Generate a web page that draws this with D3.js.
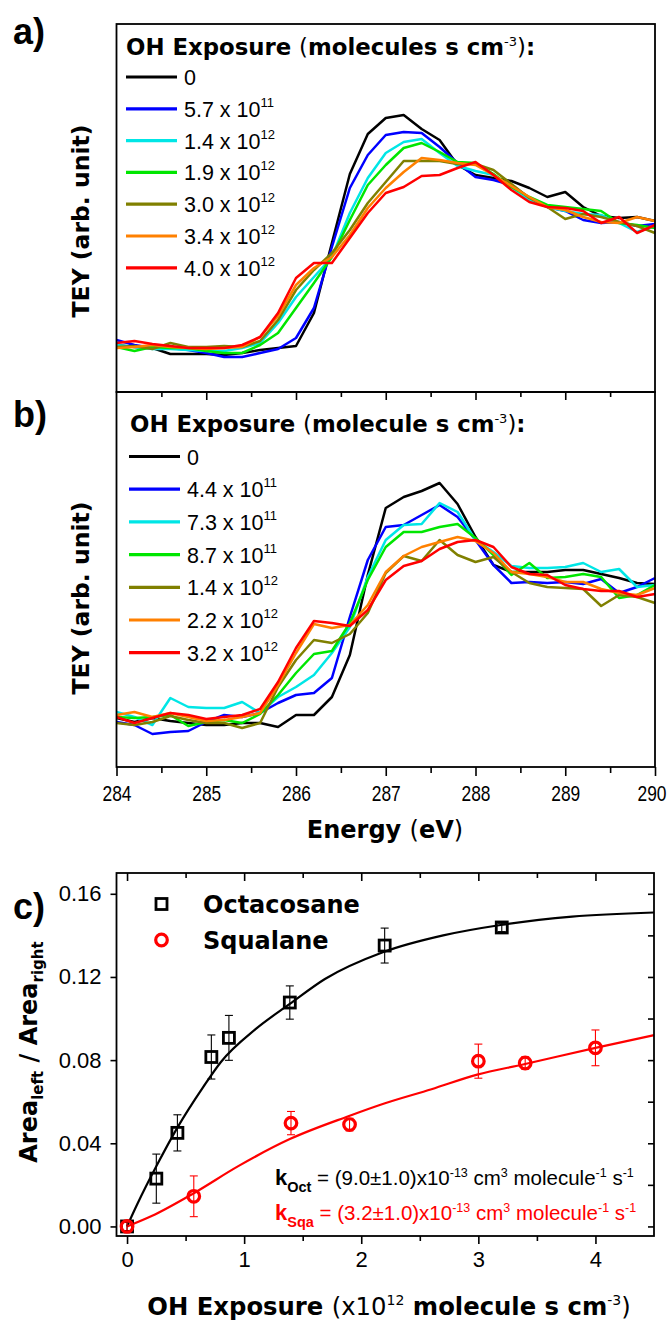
<!DOCTYPE html>
<html><head><meta charset="utf-8">
<script src="https://cdn.jsdelivr.net/npm/d3@7"></script>
<style>body{margin:0;background:#fff}svg{display:block}text{white-space:pre}</style>
</head><body>
<svg id="chart" width="670" height="1329"></svg>
<script>
// ---------- DATA ----------
const energy = [284,284.2,284.4,284.6,284.8,285,285.2,285.4,285.6,285.8,286,286.2,286.4,286.6,286.8,287,287.2,287.4,287.6,287.8,288,288.2,288.4,288.6,288.8,289,289.2,289.4,289.6,289.8,290];

// Panel a (TEY, arb. unit) – octacosane
const teyA_0     = [0.47,0.45,0.44,0.38,0.38,0.38,0.37,0.39,0.42,0.44,0.46,0.79,1.49,2.18,2.58,2.74,2.77,2.63,2.52,2.27,2.17,2.14,2.11,2.04,1.95,2.00,1.85,1.76,1.74,1.75,1.71];
const teyA_57e11 = [0.52,0.47,0.44,0.44,0.42,0.39,0.35,0.35,0.39,0.43,0.54,0.84,1.45,2.04,2.37,2.57,2.60,2.59,2.45,2.29,2.15,2.12,2.07,1.94,1.85,1.81,1.72,1.69,1.70,1.66,1.68];
const teyA_14e12 = [0.47,0.45,0.43,0.43,0.42,0.41,0.41,0.44,0.49,0.69,0.95,1.15,1.35,1.79,2.14,2.39,2.50,2.53,2.39,2.26,2.21,2.17,2.05,1.92,1.85,1.81,1.78,1.77,1.69,1.60,1.66];
const teyA_19e12 = [0.45,0.41,0.45,0.44,0.44,0.41,0.39,0.39,0.47,0.59,0.84,1.09,1.35,1.72,2.07,2.27,2.44,2.49,2.40,2.30,2.29,2.18,2.05,1.95,1.87,1.85,1.83,1.81,1.69,1.67,1.64];
const teyA_30e12 = [0.45,0.46,0.43,0.49,0.45,0.45,0.46,0.45,0.51,0.72,1.02,1.22,1.39,1.62,1.89,2.10,2.31,2.31,2.31,2.28,2.28,2.22,2.08,1.94,1.85,1.73,1.78,1.75,1.70,1.66,1.59];
const teyA_34e12 = [0.44,0.45,0.47,0.45,0.44,0.43,0.44,0.45,0.55,0.76,1.07,1.24,1.35,1.57,1.84,2.04,2.20,2.34,2.32,2.29,2.27,2.17,2.06,1.95,1.85,1.82,1.75,1.70,1.69,1.75,1.71];
const teyA_40e12 = [0.49,0.51,0.48,0.46,0.44,0.44,0.44,0.47,0.55,0.79,1.14,1.29,1.29,1.54,1.79,1.99,2.05,2.16,2.17,2.24,2.30,2.17,2.02,1.90,1.85,1.84,1.81,1.69,1.75,1.59,1.67];
const labelsA = [["0",""],["5.7 x 10","11"],["1.4 x 10","12"],["1.9 x 10","12"],["3.0 x 10","12"],["3.4 x 10","12"],["4.0 x 10","12"]];

// Panel b (TEY, arb. unit) – squalane
const teyB_0     = [0.49,0.45,0.49,0.46,0.44,0.42,0.42,0.44,0.44,0.40,0.52,0.52,0.70,1.12,1.92,2.59,2.70,2.76,2.84,2.63,2.30,2.02,1.95,1.95,1.95,1.97,1.97,1.93,1.89,1.84,1.83];
const teyB_44e11 = [0.45,0.42,0.33,0.35,0.36,0.45,0.52,0.50,0.54,0.64,0.72,0.74,0.89,1.50,2.07,2.40,2.42,2.52,2.62,2.50,2.27,2.02,1.84,1.85,1.84,1.85,1.83,1.88,1.74,1.80,1.89];
const teyB_73e11 = [0.55,0.50,0.42,0.69,0.60,0.59,0.59,0.65,0.54,0.70,0.80,0.92,1.14,1.40,1.90,2.27,2.42,2.43,2.64,2.55,2.27,2.15,2.01,1.99,1.99,2.00,2.04,1.95,1.98,1.80,1.82];
const teyB_87e11 = [0.50,0.49,0.50,0.52,0.41,0.45,0.47,0.44,0.53,0.72,0.94,1.13,1.16,1.44,1.87,2.20,2.35,2.35,2.40,2.43,2.29,2.12,1.92,2.04,1.89,1.90,1.93,1.90,1.69,1.72,1.82];
const teyB_14e12 = [0.44,0.42,0.45,0.51,0.47,0.44,0.44,0.39,0.44,0.80,1.07,1.27,1.24,1.33,1.54,1.94,2.11,2.06,2.27,2.12,2.05,2.10,1.95,1.84,1.80,1.79,1.78,1.61,1.72,1.70,1.64];
const teyB_22e12 = [0.52,0.55,0.50,0.54,0.50,0.46,0.47,0.50,0.54,0.82,1.14,1.43,1.39,1.42,1.62,1.95,2.11,2.20,2.25,2.30,2.26,2.14,1.95,1.93,1.90,1.85,1.85,1.78,1.74,1.72,1.79];
const teyB_32e12 = [0.50,0.44,0.49,0.54,0.52,0.48,0.50,0.52,0.58,0.85,1.19,1.46,1.44,1.41,1.57,1.87,2.01,2.06,2.18,2.25,2.27,2.20,2.00,1.93,1.92,1.82,1.78,1.76,1.76,1.70,1.73];
const labelsB = [["0",""],["4.4 x 10","11"],["7.3 x 10","11"],["8.7 x 10","11"],["1.4 x 10","12"],["2.2 x 10","12"],["3.2 x 10","12"]];

const energyTicks = [284,285,286,287,288,289,290];

// Panel c
const octX   = [0,0.25,0.43,0.72,0.87,1.39,2.2,3.2];
const octY   = [0.0,0.023,0.045,0.0815,0.0907,0.1077,0.1351,0.1438];
const octErr = [0.002,0.0118,0.0087,0.0106,0.0108,0.008,0.0084,0.002];
const sqaX   = [0,0.57,1.4,1.9,3.0,3.4,4.0];
const sqaY   = [0.0,0.0145,0.0497,0.049,0.0795,0.0786,0.0859];
const sqaErr = [0.002,0.0098,0.0056,0.003,0.0082,0.003,0.0086];
const fitOctX = [0,0.09,0.26,0.435,0.65,0.8,1.1,1.39,1.69,2.19,2.7,3.19,3.8,4.5];
const fitOctY = [0,0.011,0.030,0.048,0.067,0.079,0.095,0.107,0.119,0.132,0.140,0.145,0.149,0.151];
const fitSqaX = [0,0.21,0.57,0.95,1.39,1.89,2.19,2.6,2.99,3.39,4.01,4.5];
const fitSqaY = [0,0.005,0.016,0.029,0.042,0.053,0.059,0.066,0.073,0.078,0.086,0.092];
const cXTicks = [0,1,2,3,4];
const cYTicks = [0,0.04,0.08,0.12,0.16];

// ---------- STYLE ----------
const colors = ["#000000","#0000ff","#00e6e6","#00e600","#808000","#ff8000","#ff0000"];
const SANS = "'Liberation Sans', Arial, sans-serif";
const WIDE = "'DejaVu Sans', Verdana, sans-serif";

const svg = d3.select("#chart");

function rich(parent, x, y, parts, base) {
  const t = parent.append("text").attr("x", x).attr("y", y)
    .attr("font-family", base.family).attr("font-size", base.size)
    .attr("font-weight", base.weight || "normal").attr("fill", base.fill || "#000");
  if (base.anchor) t.attr("text-anchor", base.anchor);
  let cur = 0;
  parts.forEach(p => {
    const s = p.shift || 0;
    const ts = t.append("tspan").text(p.t);
    if (s - cur !== 0) ts.attr("dy", s - cur);
    cur = s;
    if (p.size) ts.attr("font-size", p.size);
    if (p.weight) ts.attr("font-weight", p.weight);
    if (p.family) ts.attr("font-family", p.family);
  });
  return t;
}

// ---------- PANELS a & b ----------
const X0 = 116.5, X1 = 655;
const xE = d3.scaleLinear().domain([284, 290]).range([X0, X1]);
const yA = d3.scaleLinear().domain([0, 3.68]).range([392, 24]);
const yB = d3.scaleLinear().domain([0, 3.75]).range([767, 392]);

const seriesA = [teyA_0,teyA_57e11,teyA_14e12,teyA_19e12,teyA_30e12,teyA_34e12,teyA_40e12];
const seriesB = [teyB_0,teyB_44e11,teyB_73e11,teyB_87e11,teyB_14e12,teyB_22e12,teyB_32e12];

function drawSpectra(series, yS) {
  const line = d3.line().x((d, i) => xE(energy[i])).y(d => yS(d));
  series.forEach((s, k) => {
    svg.append("path").datum(s).attr("d", line).attr("fill", "none")
      .attr("stroke", colors[k]).attr("stroke-width", 2.5).attr("stroke-linejoin", "round");
  });
}
drawSpectra(seriesA, yA);
drawSpectra(seriesB, yB);

function legend(labels, x, y0, dy, title, titleX, titleY) {
  rich(svg, titleX, titleY, title, {family: WIDE, size: 22.8, weight: "bold"});
  labels.forEach((l, k) => {
    const y = y0 + k * dy;
    svg.append("line").attr("x1", x).attr("x2", x + 51).attr("y1", y).attr("y2", y)
      .attr("stroke", colors[k]).attr("stroke-width", 3.2);
    const parts = [{t: l[0]}];
    if (l[1]) parts.push({t: l[1], size: 13, shift: -10});
    rich(svg, x + 58, y + 8, parts, {family: SANS, size: 21.5});
  });
}
legend(labelsA, 126, 77, 31.8,
  [{t:"OH Exposure "},{t:"(",weight:"normal"},{t:"molecules s cm"},{t:"-3",size:13,weight:"normal",shift:-9},{t:")",weight:"normal"},{t:":"}],
  126, 55);
legend(labelsB, 129, 456.5, 32.7,
  [{t:"OH Exposure "},{t:"(",weight:"normal"},{t:"molecule s cm"},{t:"-3",size:13,weight:"normal",shift:-9},{t:")",weight:"normal"},{t:":"}],
  130, 432);

// frames
svg.append("rect").attr("x", X0).attr("y", 24).attr("width", X1 - X0).attr("height", 368)
  .attr("fill", "none").attr("stroke", "#000").attr("stroke-width", 1.8);
svg.append("rect").attr("x", X0).attr("y", 392).attr("width", X1 - X0).attr("height", 375)
  .attr("fill", "none").attr("stroke", "#000").attr("stroke-width", 1.8);

// panel b ticks
function tickAxis(g, axis) {
  g.call(axis);
  g.select(".domain").remove();
  g.selectAll(".tick line").attr("stroke", "#000").attr("stroke-width", 1.6);
  return g;
}
const eMinor = [284.5,285.5,286.5,287.5,288.5,289.5];
tickAxis(svg.append("g").attr("transform", "translate(0,392)"),
  d3.axisBottom(xE).tickValues(energyTicks.slice(1, -1)).tickSize(8).tickFormat(""));
tickAxis(svg.append("g").attr("transform", "translate(0,392)"),
  d3.axisBottom(xE).tickValues(eMinor).tickSize(5).tickFormat(""));
const gEB = tickAxis(svg.append("g").attr("transform", "translate(0,767)"),
  d3.axisBottom(xE).tickValues(energyTicks).tickSize(9).tickPadding(9).tickFormat(d3.format("d")));
gEB.selectAll("text").attr("font-family", SANS).attr("font-size", 22.5).attr("fill", "#000")
  .attr("textLength", 29).attr("lengthAdjust", "spacingAndGlyphs");
// keep the last label inside the page
gEB.selectAll(".tick").filter(d => d === 290).select("text")
  .attr("text-anchor", "end").attr("x", 11);
tickAxis(svg.append("g").attr("transform", "translate(0,767)"),
  d3.axisBottom(xE).tickValues(eMinor).tickSize(6).tickFormat(""));

rich(svg, 385, 838, [{t:"Energy "},{t:"(",weight:"normal"},{t:"eV"},{t:")",weight:"normal"}],
  {family: WIDE, size: 24, weight: "bold", anchor: "middle"});

function rotLabel(x, y, parts, base) {
  const g = svg.append("g").attr("transform", `translate(${x},${y}) rotate(-90)`);
  rich(g, 0, 0, parts, Object.assign({anchor: "middle"}, base));
}
rotLabel(89, 221, [{t:"TEY (arb. unit)"}], {family: WIDE, size: 23.5, weight: "bold"});
rotLabel(89, 598, [{t:"TEY (arb. unit)"}], {family: WIDE, size: 23.5, weight: "bold"});

svg.append("text").attr("x", 13).attr("y", 44).text("a)").attr("font-family", SANS).attr("font-size", 36).attr("font-weight", "bold");
svg.append("text").attr("x", 13).attr("y", 427).text("b)").attr("font-family", SANS).attr("font-size", 36).attr("font-weight", "bold");

// ---------- PANEL c ----------
const CX0 = 116.5, CX1 = 654, CY0 = 873, CY1 = 1236;
const xC = d3.scaleLinear().domain([-0.09, 4.5]).range([CX0, CX1]);
const yC = d3.scaleLinear().domain([-0.0046, 0.170]).range([CY1, CY0]);

const fitLine = d3.line().curve(d3.curveMonotoneX).x(d => xC(d[0])).y(d => yC(d[1]));
svg.append("path").datum(fitOctX.map((x, i) => [x, fitOctY[i]])).attr("d", fitLine)
  .attr("fill", "none").attr("stroke", "#000").attr("stroke-width", 2.2);
svg.append("path").datum(fitSqaX.map((x, i) => [x, fitSqaY[i]])).attr("d", fitLine)
  .attr("fill", "none").attr("stroke", "#ff0000").attr("stroke-width", 2.2);

function errBars(xs, ys, es, col) {
  xs.forEach((x, i) => {
    const cx = xC(x), t = yC(ys[i] + es[i]), b = yC(ys[i] - es[i]);
    const g = svg.append("g").attr("stroke", col).attr("stroke-width", 1.1);
    g.append("line").attr("x1", cx).attr("x2", cx).attr("y1", t).attr("y2", b);
    g.append("line").attr("x1", cx - 4).attr("x2", cx + 4).attr("y1", t).attr("y2", t);
    g.append("line").attr("x1", cx - 4).attr("x2", cx + 4).attr("y1", b).attr("y2", b);
  });
}
errBars(octX, octY, octErr, "#000");
errBars(sqaX, sqaY, sqaErr, "#ff0000");

function square(cx, cy) {
  svg.append("rect").attr("x", cx - 5.5).attr("y", cy - 5.5).attr("width", 11).attr("height", 11)
    .attr("fill", "none").attr("stroke", "#000").attr("stroke-width", 2.8);
}
function circle(cx, cy) {
  svg.append("circle").attr("cx", cx).attr("cy", cy).attr("r", 5.8)
    .attr("fill", "none").attr("stroke", "#ff0000").attr("stroke-width", 3.2);
}
octX.forEach((x, i) => square(xC(x), yC(octY[i])));
sqaX.forEach((x, i) => circle(xC(x), yC(sqaY[i])));

svg.append("rect").attr("x", CX0).attr("y", CY0).attr("width", CX1 - CX0).attr("height", CY1 - CY0)
  .attr("fill", "none").attr("stroke", "#000").attr("stroke-width", 1.8);

const cXMinor = [0.5,1.5,2.5,3.5];
const cYMinor = [0.02,0.06,0.10,0.14];
const gCX = tickAxis(svg.append("g").attr("transform", `translate(0,${CY1})`),
  d3.axisBottom(xC).tickValues(cXTicks).tickSize(8).tickPadding(7).tickFormat(d3.format("d")));
gCX.selectAll("text").attr("font-family", SANS).attr("font-size", 22).attr("fill", "#000");
tickAxis(svg.append("g").attr("transform", `translate(0,${CY1})`),
  d3.axisBottom(xC).tickValues(cXMinor).tickSize(5).tickFormat(""));
tickAxis(svg.append("g").attr("transform", `translate(0,${CY0})`),
  d3.axisBottom(xC).tickValues(cXTicks).tickSize(8).tickFormat(""));
tickAxis(svg.append("g").attr("transform", `translate(0,${CY0})`),
  d3.axisBottom(xC).tickValues(cXMinor).tickSize(5).tickFormat(""));
const gCY = tickAxis(svg.append("g").attr("transform", `translate(${CX0},0)`),
  d3.axisLeft(yC).tickValues(cYTicks).tickSize(6).tickPadding(9).tickFormat(d3.format(".2f")));
gCY.selectAll("text").attr("font-family", SANS).attr("font-size", 22).attr("fill", "#000");
tickAxis(svg.append("g").attr("transform", `translate(${CX1},0)`),
  d3.axisLeft(yC).tickValues(cYTicks.concat(cYMinor)).tickSize(6).tickFormat(""));

// legend c
square(161.5, 904);
circle(161.5, 940);
svg.append("text").attr("x", 203).attr("y", 913).text("Octacosane").attr("font-family", WIDE).attr("font-size", 24).attr("font-weight", "bold");
svg.append("text").attr("x", 203).attr("y", 949).text("Squalane").attr("font-family", WIDE).attr("font-size", 24).attr("font-weight", "bold");

// rate constants
function kText(y, sub, val, col) {
  rich(svg, 275, y, [
    {t:"k", weight:"bold", size:22}, {t:sub, weight:"bold", size:14.5, shift:7},
    {t:" = (" + val + ")x10"}, {t:"-13", size:12.5, shift:-8},
    {t:" cm"}, {t:"3", size:12.5, shift:-8}, {t:" molecule"}, {t:"-1", size:12.5, shift:-8},
    {t:" s"}, {t:"-1", size:12.5, shift:-8}
  ], {family: SANS, size: 20.5, fill: col});
}
kText(1185, "Oct", "9.0±1.0", "#000");
kText(1220, "Sqa", "3.2±1.0", "#ff0000");

rich(svg, 389, 1315, [{t:"OH Exposure "},{t:"(x10",weight:"normal"},{t:"12",size:14,weight:"normal",shift:-10},{t:" molecule s cm"},{t:"-3",size:14,weight:"normal",shift:-10},{t:")",weight:"normal"}],
  {family: WIDE, size: 24.3, weight: "bold", anchor: "middle"});
rotLabel(37, 1052, [{t:"Area"},{t:"left",size:15,shift:6},{t:" / Area"},{t:"right",size:15,shift:6}],
  {family: WIDE, size: 24, weight: "bold"});
svg.append("text").attr("x", 13).attr("y", 919).text("c)").attr("font-family", SANS).attr("font-size", 36).attr("font-weight", "bold");
</script>
</body></html>
